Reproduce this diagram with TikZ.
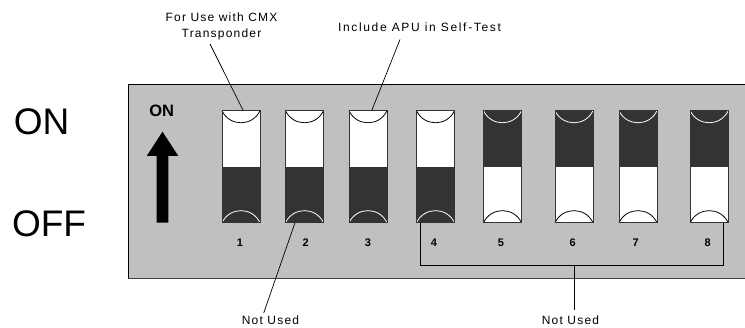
\documentclass[tikz,border=0pt]{standalone}
\usepackage{fontspec}
\setmainfont{Liberation Sans}
\newfontfamily\labfont[LetterSpace=10]{Liberation Sans}
\newfontfamily\labfontw[LetterSpace=14]{Liberation Sans}
\definecolor{panelgray}{HTML}{C0C0C0}
\definecolor{dk}{HTML}{333333}
\definecolor{edge}{HTML}{404040}
\tikzset{
  sw/.style={rectangle,minimum width=38pt,minimum height=112pt,inner sep=0pt,outer sep=0pt},
  swb/.style={draw=dk,line width=0.9pt},
  arcline/.style={line width=0.8pt},
  lab/.style={font=\labfont\fontsize{12}{16.7}\selectfont,inner sep=0pt,align=center},
  num/.style={font=\fontsize{11}{13}\selectfont\bfseries,inner sep=0pt},
  lead/.style={draw=black,line width=0.7pt}
}
\newcommand\swon[2]{%
  \node[sw] (#1) at (#2,166.7) {};
  \fill[white] (#1.north west) rectangle (#1.east);
  \fill[dk] (#1.west) rectangle (#1.south east);
  \draw[arcline,black] (#1.north west) .. controls +(7.57,16.08) and +(-7.57,16.08) .. (#1.north east);
  \draw[arcline,white] (#1.south west) .. controls +(7.57,-16.08) and +(-7.57,-16.08) .. (#1.south east);
  \draw[swb] (#1.north west) rectangle (#1.south east);
}
\newcommand\swoff[2]{%
  \node[sw] (#1) at (#2,166.7) {};
  \fill[dk] (#1.north west) rectangle (#1.east);
  \fill[white] (#1.west) rectangle (#1.south east);
  \draw[arcline,white] (#1.north west) .. controls +(7.57,16.08) and +(-7.57,16.08) .. (#1.north east);
  \draw[arcline,black] (#1.south west) .. controls +(7.57,-16.08) and +(-7.57,-16.08) .. (#1.south east);
  \draw[swb] (#1.north west) rectangle (#1.south east);
}
\begin{document}
\begin{tikzpicture}[x=1pt,y=-1pt]
\useasboundingbox (0,0) rectangle (745,328);
% panel
\fill[panelgray] (128,84) rectangle (746,278.5);
\draw[black,line width=0.9pt] (746,84) -- (128,84) -- (128,278.5);
\draw[edge,line width=1.6pt] (128,278.5) -- (746,278.5);
% big labels
\node[font=\fontsize{37}{40}\selectfont,inner sep=0pt] (bigon) at (41.5,121.5) {ON};
\node[font=\fontsize{37}{40}\selectfont,inner sep=0pt] (bigoff) at (49,223.5) {OFF};
% small ON and arrow
\node[font=\fontsize{16.5}{18}\selectfont\bfseries,inner sep=0pt] (smon) at (161.7,111) {ON};
\fill[black] (156.7,222.7) -- (156.7,156) -- (146.7,156) -- (162.5,131.7) -- (178.3,156) -- (168.3,156) -- (168.3,222.7) -- cycle;
% switches
\swon{s1}{241}
\swon{s2}{304.5}
\swon{s3}{368}
\swon{s4}{435.5}
\swoff{s5}{502.5}
\swoff{s6}{574}
\swoff{s7}{638}
\swoff{s8}{709.2}
% numbers
\node[num] (n1) at (240,242.5) {1};
\node[num] (n2) at (305.7,242.5) {2};
\node[num] (n3) at (368,242.5) {3};
\node[num] (n4) at (434,242.5) {4};
\node[num] (n5) at (501,242.5) {5};
\node[num] (n6) at (572.7,242.5) {6};
\node[num] (n7) at (635.7,242.5) {7};
\node[num] (n8) at (707.7,242.5) {8};
% labels
\node[lab,anchor=north] (lab1) at (221.5,12.3) {For Use with CMX\\Transponder};
\node[lab,font=\labfontw\fontsize{12}{16.7}\selectfont,anchor=base] (lab2) at (419.5,31.3) {Include APU in Self-Test};
\node[lab,anchor=base] (nu1) at (270.5,325) {Not Used};
\node[lab,anchor=base] (nu2) at (570.5,325) {Not Used};
% leaders
\coordinate (l1) at (210,44);
\coordinate (l2) at (400,39.5);
\coordinate (l3) at (263.7,313);
\draw[lead] (l1) -- ([xshift=2.3pt]s1.north);
\draw[lead] (l2) -- ([xshift=3.7pt]s3.north);
\draw[lead] ([xshift=-9.5pt]s2.south) -- (l3);
% bracket
\coordinate (bl) at ([xshift=4pt]s4.south west);
\coordinate (br) at ([xshift=-4.4pt]s8.south east);
\coordinate (bmid) at (574,265);
\draw[lead] (bl) -- (bl |- bmid) -- (br |- bmid) -- (br);
\draw[lead] (bmid) -- (bmid |- 0,310);
\end{tikzpicture}
\end{document}
